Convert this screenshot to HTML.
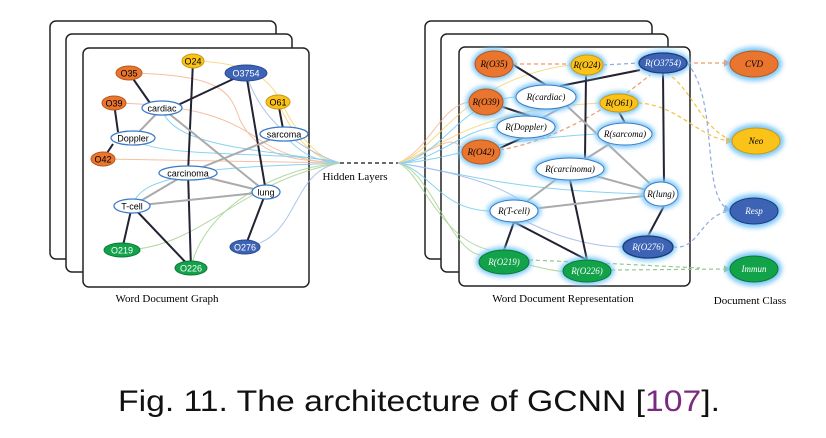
<!DOCTYPE html>
<html><head><meta charset="utf-8"><style>
html,body{margin:0;padding:0;background:#fff;}
svg{display:block;}
</style></head><body>
<svg width="826" height="438" viewBox="0 0 826 438" xmlns="http://www.w3.org/2000/svg" font-family="Liberation Sans, sans-serif">
<defs>
<filter id="glow" x="-50%" y="-50%" width="200%" height="200%"><feGaussianBlur stdDeviation="2.5"/></filter>
<marker id="ah" markerWidth="6" markerHeight="6" refX="5" refY="3" orient="auto"><path d="M0,0 L6,3 L0,6z" fill="#ef9a6a"/></marker>
<marker id="ay" markerWidth="6" markerHeight="6" refX="5" refY="3" orient="auto"><path d="M0,0 L6,3 L0,6z" fill="#f5c040"/></marker>
<marker id="ab" markerWidth="6" markerHeight="6" refX="5" refY="3" orient="auto"><path d="M0,0 L6,3 L0,6z" fill="#8fa8e0"/></marker>
<marker id="ag" markerWidth="6" markerHeight="6" refX="5" refY="3" orient="auto"><path d="M0,0 L6,3 L0,6z" fill="#90c890"/></marker>
</defs>
<!-- left panels -->
<rect x="50" y="21" width="226" height="238" rx="6" fill="#fff" stroke="#222" stroke-width="1.5"/>
<rect x="66" y="34" width="226" height="238" rx="6" fill="#fff" stroke="#222" stroke-width="1.5"/>
<rect x="83" y="48" width="226" height="239" rx="6" fill="#fff" stroke="#222" stroke-width="1.5"/>
<!-- right panels -->
<rect x="425" y="21" width="227" height="238" rx="6" fill="#fff" stroke="#222" stroke-width="1.5"/>
<rect x="441" y="34" width="227" height="238" rx="6" fill="#fff" stroke="#222" stroke-width="1.5"/>
<rect x="459" y="47" width="231" height="239" rx="6" fill="#fff" stroke="#222" stroke-width="1.5"/>

<!-- left colored curves to hub -->
<g fill="none" stroke-width="1" opacity="0.8">
<path d="M129,73 C220,75 230,90 240,120 C260,160 300,160 340,163" stroke="#f4b08c"/>
<path d="M114,103 C200,105 230,120 260,140 C290,160 320,162 340,163" stroke="#f4b08c"/>
<path d="M103,159 L340,163" stroke="#f4b08c"/>
<path d="M193,61 C250,62 270,80 280,100 C300,140 320,160 340,163" stroke="#f7d26a"/>
<path d="M278,102 C290,130 310,160 340,163" stroke="#f7d26a"/>
<path d="M162,108 C170,150 280,150 340,163" stroke="#6cc8ee"/>
<path d="M133,138 C150,160 300,150 340,163" stroke="#6cc8ee"/>
<path d="M284,134 C300,155 320,162 340,163" stroke="#6cc8ee"/>
<path d="M132,206 C140,180 180,180 188,173 C250,165 300,165 340,163" stroke="#6cc8ee"/>
<path d="M246,73 C260,120 300,150 340,163" stroke="#9bb4e8"/>
<path d="M245,247 C300,240 290,170 340,163" stroke="#9bb4e8"/>
<path d="M122,250 C200,250 240,180 340,163" stroke="#9fd08a"/>
<path d="M191,268 C200,220 260,170 340,163" stroke="#9fd08a"/>
</g>
<!-- left edges -->
<g stroke-width="2" fill="none">
<line x1="129" y1="73" x2="150" y2="103" stroke="#223"/>
<line x1="178" y1="105" x2="246" y2="73" stroke="#223"/>
<line x1="114" y1="103" x2="118" y2="132" stroke="#223"/>
<line x1="103" y1="159" x2="113" y2="144" stroke="#223"/>
<line x1="193" y1="61" x2="188" y2="173" stroke="#223"/>
<line x1="188" y1="173" x2="191" y2="268" stroke="#223"/>
<line x1="246" y1="73" x2="266" y2="192" stroke="#223"/>
<line x1="278" y1="102" x2="284" y2="134" stroke="#223"/>
<line x1="266" y1="192" x2="245" y2="247" stroke="#223"/>
<line x1="132" y1="206" x2="122" y2="250" stroke="#223"/>
<line x1="132" y1="206" x2="191" y2="268" stroke="#223"/>
<line x1="162" y1="108" x2="133" y2="138" stroke="#aaa"/>
<line x1="162" y1="108" x2="266" y2="192" stroke="#aaa"/>
<line x1="188" y1="173" x2="284" y2="134" stroke="#aaa"/>
<line x1="188" y1="173" x2="266" y2="192" stroke="#aaa"/>
<line x1="188" y1="173" x2="132" y2="206" stroke="#aaa"/>
<line x1="132" y1="206" x2="266" y2="192" stroke="#aaa"/>
</g>
<!-- left nodes -->
<g font-size="9" text-anchor="middle">
<ellipse cx="193" cy="61" rx="11" ry="7" fill="#fbc21a" stroke="#c99a10"/><text x="193" y="64.5">O24</text>
<ellipse cx="246" cy="73" rx="21" ry="8" fill="#3d63b5" stroke="#2a4a90"/><text x="246" y="76.5" fill="#fff">O3754</text>
<ellipse cx="129" cy="73" rx="13" ry="7" fill="#e9752e" stroke="#b8581c"/><text x="129" y="76.5">O35</text>
<ellipse cx="114" cy="103" rx="12" ry="7" fill="#e9752e" stroke="#b8581c"/><text x="114" y="106.5">O39</text>
<ellipse cx="162" cy="108" rx="20" ry="7" fill="#fff" stroke="#3a7ac8" stroke-width="1.3"/><text x="162" y="111.5">cardiac</text>
<ellipse cx="278" cy="102" rx="12" ry="7" fill="#fbc21a" stroke="#c99a10"/><text x="278" y="105.5">O61</text>
<ellipse cx="284" cy="134" rx="24" ry="7" fill="#fff" stroke="#3a7ac8" stroke-width="1.3"/><text x="284" y="137.5">sarcoma</text>
<ellipse cx="133" cy="138" rx="22" ry="7" fill="#fff" stroke="#3a7ac8" stroke-width="1.3"/><text x="133" y="141.5">Doppler</text>
<ellipse cx="103" cy="159" rx="12" ry="7" fill="#e9752e" stroke="#b8581c"/><text x="103" y="162.5">O42</text>
<ellipse cx="188" cy="173" rx="29" ry="7" fill="#fff" stroke="#3a7ac8" stroke-width="1.3"/><text x="188" y="176.5">carcinoma</text>
<ellipse cx="266" cy="192" rx="14" ry="7" fill="#fff" stroke="#3a7ac8" stroke-width="1.3"/><text x="266" y="195.5">lung</text>
<ellipse cx="132" cy="206" rx="18" ry="7" fill="#fff" stroke="#3a7ac8" stroke-width="1.3"/><text x="132" y="209.5">T-cell</text>
<ellipse cx="122" cy="250" rx="18" ry="7" fill="#12a24a" stroke="#0c7a36"/><text x="122" y="253.5" fill="#fff">O219</text>
<ellipse cx="191" cy="268" rx="16" ry="7" fill="#12a24a" stroke="#0c7a36"/><text x="191" y="271.5" fill="#fff">O226</text>
<ellipse cx="245" cy="247" rx="15" ry="7" fill="#3d63b5" stroke="#2a4a90"/><text x="245" y="250.5" fill="#fff">O276</text>
</g>
<text x="167" y="302" font-family="Liberation Serif, serif" font-size="11" text-anchor="middle">Word Document Graph</text>

<!-- hidden layers -->
<line x1="340" y1="163" x2="398" y2="163" stroke="#111" stroke-width="1.2" stroke-dasharray="4,3"/>
<text x="355" y="180" font-family="Liberation Serif, serif" font-size="11" text-anchor="middle">Hidden Layers</text>

<!-- right curves from hub -->
<g fill="none" stroke-width="1" opacity="0.8">
<path d="M398,163 C430,150 440,105 470,102" stroke="#f4b08c"/>
<path d="M398,163 C440,150 450,130 465,152" stroke="#f4b08c"/>
<path d="M398,163 C440,150 460,80 570,65" stroke="#f7d26a"/>
<path d="M398,163 C440,150 470,110 600,103" stroke="#f7d26a"/>
<path d="M398,163 C440,160 460,100 516,97" stroke="#6cc8ee"/>
<path d="M398,163 C440,160 460,130 497,127" stroke="#6cc8ee"/>
<path d="M398,163 C440,163 480,140 598,134" stroke="#6cc8ee"/>
<path d="M398,163 C450,170 500,190 644,194" stroke="#6cc8ee"/>
<path d="M398,163 C430,170 440,210 490,211" stroke="#6cc8ee"/>
<path d="M398,163 C440,170 490,180 520,200" stroke="#9bb4e8"/>
<path d="M398,163 C430,170 450,250 480,255" stroke="#9fd08a"/>
<path d="M398,163 C420,170 440,240 490,250" stroke="#9fd08a"/>
<path d="M520,218 C560,240 600,247 623,247" stroke="#9bb4e8"/>
<path d="M529,265 C550,270 560,272 563,271" stroke="#9fd08a"/>
</g>
<!-- right dashed edges -->
<g fill="none" stroke-width="1.2" stroke-dasharray="4,3">
<path d="M513,64 L570,64" stroke="#ef9a6a"/>
<path d="M500,150 C560,140 620,100 650,75" stroke="#ef9a6a"/>
<path d="M603,65 L639,63" stroke="#8fa8e0"/>
<path d="M687,63 L730,63" stroke="#ef9a6a" marker-end="url(#ah)"/>
<path d="M638,103 C680,105 700,140 732,141" stroke="#f5c040" marker-end="url(#ay)"/>
<path d="M660,70 C690,80 700,130 732,140" stroke="#f5c040"/>
<path d="M687,63 C720,100 700,200 730,210" stroke="#8fa8e0" marker-end="url(#ab)"/>
<path d="M673,247 C700,250 700,215 730,211" stroke="#8fa8e0"/>
<path d="M611,270 L730,269" stroke="#90c890" marker-end="url(#ag)"/>
<path d="M529,260 C580,262 640,265 700,268" stroke="#90c890"/>
</g>
<!-- right solid edges -->
<g stroke-width="2" fill="none">
<line x1="512" y1="64" x2="546" y2="85" stroke="#223"/>
<line x1="560" y1="86" x2="640" y2="70" stroke="#223"/>
<line x1="586" y1="75" x2="585" y2="158" stroke="#223"/>
<line x1="663" y1="73" x2="664" y2="182" stroke="#223"/>
<line x1="500" y1="106" x2="530" y2="116" stroke="#223"/>
<line x1="500" y1="148" x2="540" y2="130" stroke="#223"/>
<line x1="619" y1="112" x2="625" y2="123" stroke="#223"/>
<line x1="664" y1="206" x2="648" y2="236" stroke="#223"/>
<line x1="514" y1="222" x2="504" y2="250" stroke="#223"/>
<line x1="514" y1="222" x2="587" y2="260" stroke="#223"/>
<line x1="570" y1="180" x2="587" y2="260" stroke="#223"/>
<line x1="566" y1="105" x2="526" y2="127" stroke="#aaa"/>
<line x1="566" y1="105" x2="661" y2="194" stroke="#aaa"/>
<line x1="570" y1="169" x2="625" y2="134" stroke="#aaa"/>
<line x1="570" y1="169" x2="661" y2="194" stroke="#aaa"/>
<line x1="570" y1="169" x2="514" y2="211" stroke="#aaa"/>
<line x1="514" y1="211" x2="661" y2="194" stroke="#aaa"/>
</g>
<!-- right nodes -->
<g font-size="9" text-anchor="middle" font-style="italic" font-family="Liberation Serif, serif">
<g filter="url(#glow)" fill="#7cc8f8">
<ellipse cx="494" cy="64" rx="22" ry="16"/><ellipse cx="587" cy="65" rx="19" ry="13"/><ellipse cx="663" cy="63" rx="27" ry="13"/>
<ellipse cx="486" cy="102" rx="20" ry="16"/><ellipse cx="546" cy="97" rx="33" ry="15"/><ellipse cx="619" cy="103" rx="22" ry="12"/>
<ellipse cx="526" cy="127" rx="32" ry="14"/><ellipse cx="625" cy="134" rx="30" ry="14"/><ellipse cx="481" cy="152" rx="22" ry="15"/>
<ellipse cx="570" cy="169" rx="37" ry="14"/><ellipse cx="661" cy="194" rx="20" ry="15"/><ellipse cx="514" cy="211" rx="27" ry="14"/>
<ellipse cx="648" cy="247" rx="28" ry="14"/><ellipse cx="504" cy="262" rx="28" ry="15"/><ellipse cx="587" cy="271" rx="27" ry="14"/>
<ellipse cx="754" cy="64" rx="28" ry="17"/><ellipse cx="756" cy="141" rx="28" ry="17"/><ellipse cx="754" cy="211" rx="28" ry="17"/><ellipse cx="754" cy="269" rx="28" ry="17"/>
</g>
<ellipse cx="494" cy="64" rx="19" ry="13" fill="#e9752e" stroke="#b8581c"/><text x="494" y="67">R(O35)</text>
<ellipse cx="587" cy="65" rx="16" ry="10" fill="#fbc21a" stroke="#c99a10"/><text x="587" y="68">R(O24)</text>
<ellipse cx="663" cy="63" rx="24" ry="10" fill="#3d63b5" stroke="#1f3a7a" stroke-width="1.3"/><text x="663" y="66" fill="#fff">R(O3754)</text>
<ellipse cx="486" cy="102" rx="17" ry="13" fill="#e9752e" stroke="#b8581c"/><text x="486" y="105">R(O39)</text>
<ellipse cx="546" cy="97" rx="30" ry="12" fill="#fff" stroke="#3a7ac8"/><text x="546" y="100">R(cardiac)</text>
<ellipse cx="619" cy="103" rx="19" ry="9" fill="#fbc21a" stroke="#c99a10"/><text x="619" y="106">R(O61)</text>
<ellipse cx="526" cy="127" rx="29" ry="11" fill="#fff" stroke="#3a7ac8"/><text x="526" y="130">R(Doppler)</text>
<ellipse cx="625" cy="134" rx="27" ry="11" fill="#fff" stroke="#3a7ac8"/><text x="625" y="137">R(sarcoma)</text>
<ellipse cx="481" cy="152" rx="19" ry="12" fill="#e9752e" stroke="#b8581c"/><text x="481" y="155">R(O42)</text>
<ellipse cx="570" cy="169" rx="34" ry="11" fill="#fff" stroke="#3a7ac8"/><text x="570" y="172">R(carcinoma)</text>
<ellipse cx="661" cy="194" rx="17" ry="12" fill="#fff" stroke="#3a7ac8"/><text x="661" y="197">R(lung)</text>
<ellipse cx="514" cy="211" rx="24" ry="11" fill="#fff" stroke="#3a7ac8"/><text x="514" y="214">R(T-cell)</text>
<ellipse cx="648" cy="247" rx="25" ry="11" fill="#3d63b5" stroke="#1f3a7a" stroke-width="1.3"/><text x="648" y="250" fill="#fff">R(O276)</text>
<ellipse cx="504" cy="262" rx="25" ry="12" fill="#12a24a" stroke="#0c7a36"/><text x="504" y="265" fill="#fff">R(O219)</text>
<ellipse cx="587" cy="271" rx="24" ry="11" fill="#12a24a" stroke="#0c7a36"/><text x="587" y="274" fill="#fff">R(O226)</text>
<ellipse cx="754" cy="64" rx="24" ry="13" fill="#e9752e" stroke="#b8581c"/><text x="754" y="67">CVD</text>
<ellipse cx="756" cy="141" rx="24" ry="13" fill="#fbc21a" stroke="#c99a10"/><text x="756" y="144">Neo</text>
<ellipse cx="754" cy="211" rx="24" ry="13" fill="#3d63b5" stroke="#1f3a7a"/><text x="754" y="214" fill="#fff">Resp</text>
<ellipse cx="754" cy="269" rx="24" ry="13" fill="#12a24a" stroke="#0c7a36"/><text x="754" y="272" fill="#fff">Immun</text>
</g>
<text x="563" y="302" font-family="Liberation Serif, serif" font-size="11" text-anchor="middle">Word Document Representation</text>
<text x="750" y="304" font-family="Liberation Serif, serif" font-size="11" text-anchor="middle">Document Class</text>

<text x="118" y="411" font-size="30" textLength="602" lengthAdjust="spacingAndGlyphs" fill="#111">Fig. 11.  The architecture of GCNN [<tspan fill="#7a2a80">107</tspan>].</text>
</svg>
</body></html>
